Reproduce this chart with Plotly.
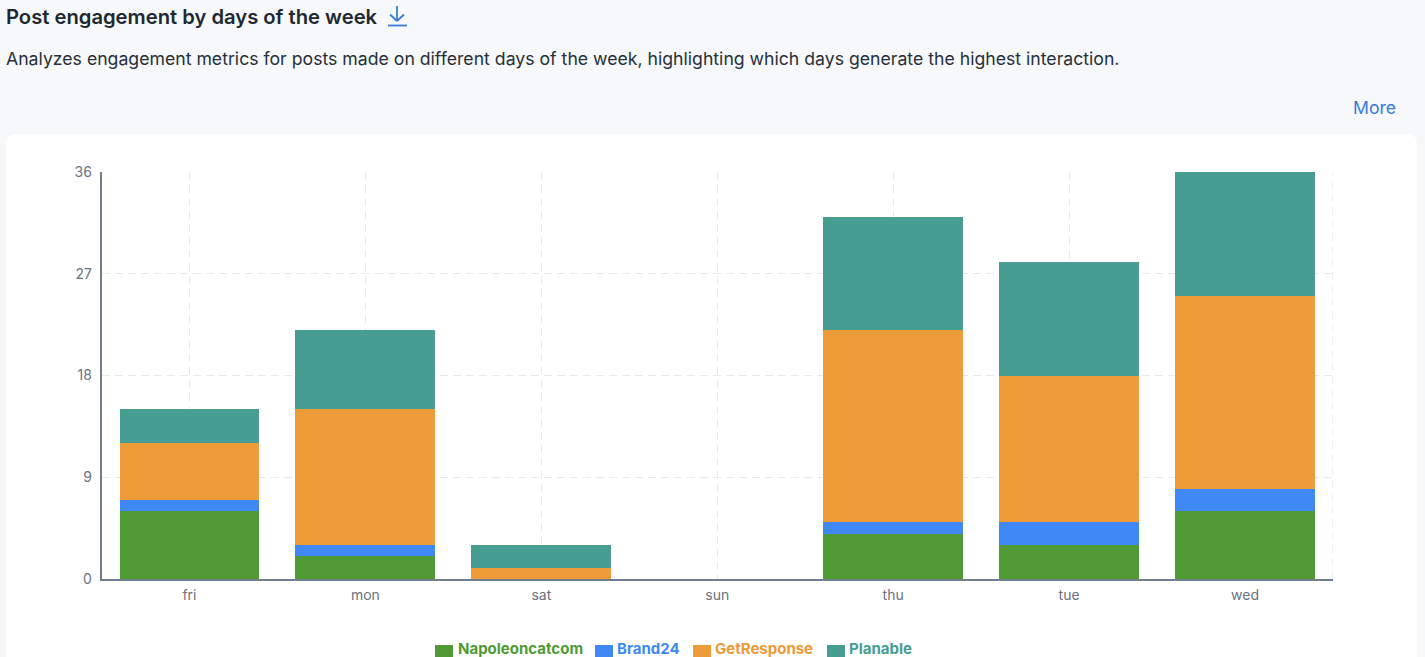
import plotly.graph_objects as go

days = ["fri", "mon", "sat", "sun", "thu", "tue", "wed"]
napoleoncatcom = [6, 2, 0, 0, 4, 3, 6]
brand24 = [1, 1, 0, 0, 1, 2, 2]
getresponse = [5, 12, 1, 0, 17, 13, 17]
planable = [3, 7, 2, 0, 10, 10, 11]
y_ticks = [0, 9, 18, 27, 36]

title = "Post engagement by days of the week"
subtitle = "Analyzes engagement metrics for posts made on different days of the week, highlighting which days generate the highest interaction."
more = "More"

W, H = 1425, 657
GREEN, BLUE, ORANGE, TEAL = "#4f9a35", "#3f88f5", "#ed9a38", "#469e93"
LINK = "#3b7ad9"
GRID = "#e6e9ed"
AXIS = "#6f7d8e"
DASH = "8px,5px"
FONT = "Inter, sans-serif"

def px(x):
    return x / W

def py(y):
    return 1 - y / H

fig = go.Figure()
for name, vals, col in [("Napoleoncatcom", napoleoncatcom, GREEN), ("Brand24", brand24, BLUE),
                        ("GetResponse", getresponse, ORANGE), ("Planable", planable, TEAL)]:
    fig.add_bar(x=days, y=vals, name=name, marker=dict(color=col, line=dict(width=0)), width=0.795)

shapes = []
# white card with rounded corners
r = 10
L, T, R, B = 6, 134, 1417, 680
shapes.append(dict(type="path", xref="paper", yref="paper", layer="below", line=dict(width=0), fillcolor="#ffffff",
    path=f"M {px(L+r)} {py(T)} L {px(R-r)} {py(T)} Q {px(R)} {py(T)} {px(R)} {py(T+r)} L {px(R)} {py(B)} L {px(L)} {py(B)} L {px(L)} {py(T+r)} Q {px(L)} {py(T)} {px(L+r)} {py(T)} Z"))
# right dashed border of the plot
shapes.append(dict(type="line", xref="x", yref="y", x0=6.5, x1=6.5, y0=0, y1=36, layer="below",
                   line=dict(color=GRID, width=1.3, dash=DASH)))
# download icon
for (x0, y0, x1, y1) in [(397, 6, 397, 21), (390, 14.5, 397, 21), (404, 14.5, 397, 21), (388, 25.5, 407, 25.5)]:
    shapes.append(dict(type="line", xref="paper", yref="paper", x0=px(x0), y0=py(y0), x1=px(x1), y1=py(y1),
                       line=dict(color=LINK, width=1.8)))

annotations = [
    dict(text=title, x=px(4), y=py(16), font=dict(size=20.2, color="#1f2933", family=FONT, weight=600), xanchor="left"),
    dict(text=subtitle, x=px(4), y=py(59), font=dict(size=17.67, color="#27303a", family=FONT), xanchor="left"),
    dict(text=more, x=px(1398), y=py(107.5), font=dict(size=17.6, color=LINK, family=FONT), xanchor="right"),
]
for name, col, sx, tx in [("Napoleoncatcom", GREEN, 435, 456), ("Brand24", BLUE, 595, 615),
                          ("GetResponse", ORANGE, 693, 713), ("Planable", TEAL, 827, 847)]:
    shapes.append(dict(type="rect", xref="paper", yref="paper", x0=px(sx), x1=px(sx + 18), y0=py(645), y1=py(657),
                       fillcolor=col, line=dict(width=0)))
    annotations.append(dict(text=name, x=px(tx), y=py(648.5), font=dict(size=15, color=col, family=FONT, weight=700), xanchor="left"))
for a in annotations:
    a.update(xref="paper", yref="paper", yanchor="middle", showarrow=False)

fig.update_layout(
    width=W, height=H, autosize=False, margin=dict(l=0, r=0, t=0, b=0, pad=0),
    paper_bgcolor="#f6f8fa", plot_bgcolor="rgba(0,0,0,0)", barmode="stack", showlegend=False,
    font=dict(family=FONT, color="#6b7280", size=14),
    shapes=shapes, annotations=annotations,
    xaxis=dict(domain=[px(101.5), px(1333)], type="category", categoryorder="array", categoryarray=days,
               range=[-0.5, 6.5], automargin=False, showgrid=True, gridcolor=GRID, griddash=DASH, gridwidth=1.3,
               showline=True, linecolor=AXIS, linewidth=1.5, ticks="outside", ticklen=2,
               tickcolor="rgba(0,0,0,0)", zeroline=False, tickfont=dict(size=14, color="#6b7280")),
    yaxis=dict(domain=[1 - 579 / H, 1 - 172 / H], range=[0, 36], tickvals=y_ticks, automargin=False, showgrid=True,
               gridcolor=GRID, griddash=DASH, gridwidth=1.3, showline=True, linecolor=AXIS,
               linewidth=1.5, ticks="outside", ticklen=5, tickcolor="rgba(0,0,0,0)", zeroline=False,
               tickfont=dict(size=14, color="#6b7280")),
)
fig.write_html("out.html", config=dict(displayModeBar=False),
               post_script="document.body.style.margin='0';document.body.style.overflow='hidden';")
